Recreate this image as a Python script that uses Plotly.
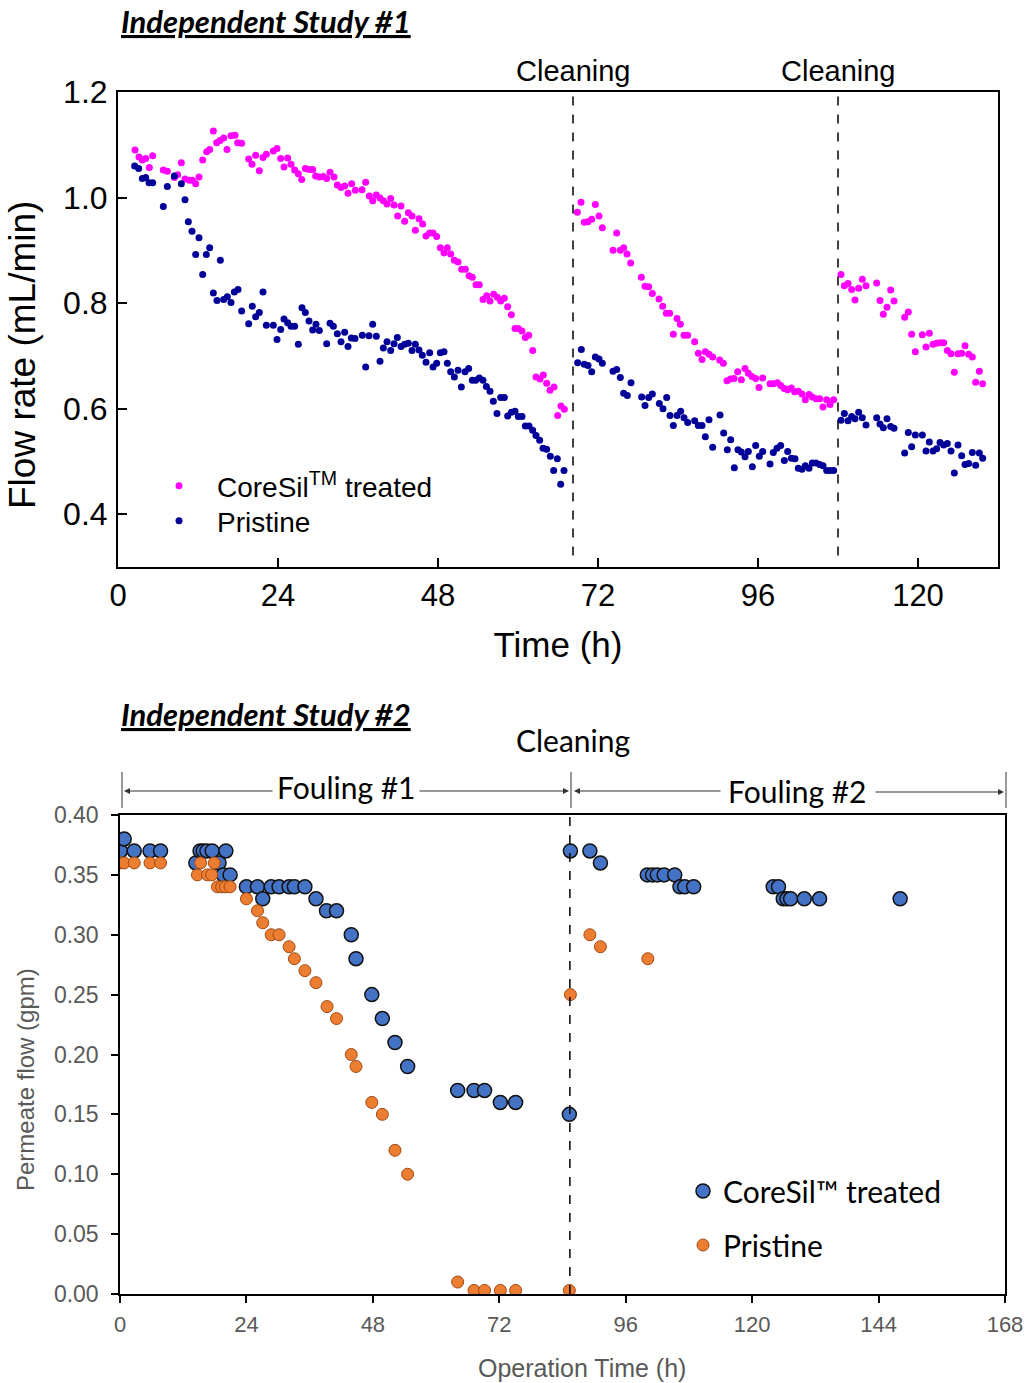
import plotly.graph_objects as go

W, H = 1030, 1383

# ---------------- Study 1 data ----------------
t1_coresil = [2.55, 3.15, 3.65, 4.15, 4.7, 5.2, 6.8, 7.4, 8.45, 8.95, 9.5, 10.05, 10.7, 11.15, 11.65, 12.15,
              12.7, 13.3, 13.75, 14.3, 14.8, 15.3, 15.85, 16.35, 16.95, 17.55, 17.95, 18.55, 19.6, 20.1, 20.65,
              21.2, 21.75, 22.25, 23.3, 23.85, 24.4, 24.9, 25.45, 25.95, 26.5, 27.05, 27.55, 28.1, 28.65, 29.2,
              29.65, 30.2, 30.8, 31.3, 31.8, 32.4, 32.9, 33.45, 34.0, 34.5, 35.05, 35.6, 36.6, 37.15, 37.7, 38.2,
              38.75, 39.3, 39.8, 40.35, 40.9, 41.4, 41.95, 42.45, 43.0, 43.55, 44.1, 44.6, 45.15, 45.7, 46.2,
              46.75, 47.25, 47.8, 48.35, 48.9, 49.4, 49.9, 50.45, 51.0, 51.55, 52.1, 52.65, 53.15, 53.7, 54.2,
              54.75, 55.3, 55.8, 56.35, 56.9, 57.4, 57.95, 58.45, 59.0, 59.55, 60.05, 60.6, 61.1, 61.6, 62.2,
              62.7, 63.3, 63.8, 64.3, 64.8, 65.4, 65.95, 66.45, 66.95,
              68.9, 69.45, 69.95, 70.5, 71.05, 71.6, 72.15, 72.65, 74.25, 74.8, 75.35, 75.85, 76.35, 76.9, 78.5,
              79.05, 79.6, 80.15, 81.15, 81.7, 82.25, 82.75, 83.3, 83.85, 84.35, 84.9, 85.45, 86.5, 87.05, 87.6,
              88.1, 88.65, 89.2, 90.25, 90.8, 91.35, 91.9, 92.4, 92.95, 93.5, 94.05, 94.55, 95.1, 95.65, 96.15,
              96.7, 97.8, 98.3, 98.9, 99.4, 99.95, 100.45, 101.0, 101.5, 102.05, 102.6, 103.1, 103.65, 104.15,
              104.7, 105.25, 105.75, 106.3, 106.8, 107.35,
              108.45, 108.95, 109.5, 110.05, 110.55, 111.1, 111.65, 112.2, 113.8, 114.3, 114.8, 115.35, 115.9,
              116.4, 118.0, 118.55, 119.05, 119.6, 120.65, 121.2, 121.7, 122.25, 122.8, 123.3, 123.85, 124.4,
              124.95, 125.45, 126.0, 126.55, 127.05, 127.6, 128.15, 128.65, 129.2, 129.7]
f1_coresil = [1.090, 1.077, 1.071, 1.074, 1.057, 1.079, 1.052, 1.050, 1.038, 1.043, 1.066, 1.035, 1.033, 1.033,
              1.026, 1.039, 1.071, 1.087, 1.091, 1.126, 1.104, 1.108, 1.113, 1.091, 1.117, 1.118, 1.104, 1.103,
              1.073, 1.063, 1.080, 1.051, 1.076, 1.082, 1.088, 1.093, 1.074, 1.058, 1.075, 1.063, 1.052, 1.045,
              1.034, 1.055, 1.053, 1.053, 1.041, 1.039, 1.040, 1.036, 1.048, 1.039, 1.024, 1.019, 1.022, 1.008,
              1.026, 1.014, 1.015, 1.029, 1.003, 0.994, 1.005, 0.999, 0.994, 0.988, 0.998, 0.986, 0.965, 0.984,
              0.955, 0.971, 0.965, 0.938, 0.960, 0.950, 0.927, 0.933, 0.933, 0.926, 0.905, 0.895, 0.905, 0.893,
              0.881, 0.878, 0.864, 0.864, 0.852, 0.849, 0.835, 0.835, 0.807, 0.814, 0.804, 0.817, 0.811, 0.804,
              0.809, 0.793, 0.778, 0.752, 0.752, 0.747, 0.735, 0.739, 0.710, 0.660, 0.656, 0.664, 0.648, 0.635,
              0.641, 0.587, 0.605, 0.599,
              0.972, 0.991, 0.953, 0.954, 0.959, 0.987, 0.965, 0.943, 0.900, 0.933, 0.900, 0.905, 0.893, 0.876,
              0.849, 0.832, 0.831, 0.818, 0.808, 0.794, 0.781, 0.781, 0.741, 0.771, 0.760, 0.739, 0.739, 0.727,
              0.705, 0.693, 0.708, 0.703, 0.698, 0.692, 0.686, 0.653, 0.656, 0.657, 0.670, 0.655, 0.676, 0.667,
              0.661, 0.657, 0.640, 0.658, 0.647, 0.647, 0.649, 0.644, 0.638, 0.636, 0.639, 0.632, 0.633, 0.628,
              0.617, 0.627, 0.622, 0.619, 0.619, 0.603, 0.617, 0.608, 0.617,
              0.854, 0.833, 0.837, 0.826, 0.806, 0.828, 0.845, 0.833, 0.838, 0.805, 0.779, 0.792, 0.825, 0.804,
              0.773, 0.783, 0.741, 0.708, 0.740, 0.717, 0.743, 0.722, 0.724, 0.725, 0.725, 0.710, 0.704, 0.669,
              0.704, 0.705, 0.719, 0.703, 0.698, 0.650, 0.671, 0.647]

t1_pristine = [2.5, 3.1, 3.65, 4.15, 4.65, 5.2, 6.8, 7.4, 8.45, 9.5, 10.05, 10.55, 11.1, 11.65, 12.15, 12.7,
               13.25, 13.75, 14.3, 14.85, 15.35, 15.85, 16.4, 16.95, 17.45, 18.0, 18.55, 19.6, 20.15, 20.65, 21.2,
               21.75, 22.25, 23.3, 23.85, 24.4, 24.9, 25.45, 25.95, 26.5, 27.05, 27.6, 28.1, 28.65, 29.2, 29.7,
               30.2, 31.3, 31.8, 32.3, 32.9, 33.45, 34.0, 34.5, 35.0, 35.55, 36.65, 37.15, 37.65, 38.2, 38.75,
               39.3, 39.8, 40.35, 40.9, 41.4, 41.9, 42.45, 43.0, 43.55, 44.1, 44.6, 45.15, 45.65, 46.2, 46.75,
               47.25, 47.8, 48.35, 48.9, 49.4, 49.9, 50.45, 51.0, 51.5, 52.05, 52.6, 53.15, 53.65, 54.2, 54.75,
               55.25, 55.8, 56.3, 56.85, 57.4, 57.95, 58.45, 59.0, 59.55, 60.05, 60.6, 61.1, 61.65, 62.2, 62.7,
               63.25, 63.75, 64.3, 64.85, 65.35, 65.9, 66.4, 66.9,
               68.95, 69.5, 69.95, 70.5, 71.05, 71.6, 72.15, 72.65, 74.25, 74.8, 75.35, 75.85, 76.4, 76.95,
               78.55, 79.05, 79.6, 80.15, 81.2, 81.75, 82.3, 82.8, 83.3, 83.85, 84.4, 84.9, 85.45, 86.5, 87.05,
               87.6, 88.1, 88.65, 89.2, 90.3, 90.85, 91.4, 91.9, 92.45, 93.0, 93.5, 94.05, 94.55, 95.15, 95.65,
               96.2, 96.7, 97.8, 98.3, 98.85, 99.4, 99.95, 100.45, 101.0, 101.55, 102.05, 102.6, 103.1, 103.65,
               104.15, 104.7, 105.25, 105.75, 106.3, 106.8, 107.35,
               108.45, 108.95, 109.5, 110.05, 110.55, 111.1, 111.65, 112.2, 113.8, 114.3, 114.8, 115.35, 115.9,
               116.4, 118.0, 118.55, 119.05, 119.6, 120.65, 121.2, 121.7, 122.25, 122.8, 123.3, 123.85, 124.4,
               124.95, 125.45, 126.0, 126.55, 127.05, 127.6, 128.15, 128.65, 129.2, 129.7]
f1_pristine = [1.060, 1.055, 1.036, 1.038, 1.028, 1.028, 0.983, 1.021, 1.041, 1.026, 0.996, 0.954, 0.936, 0.892,
               0.924, 0.854, 0.892, 0.905, 0.819, 0.805, 0.881, 0.807, 0.812, 0.801, 0.821, 0.826, 0.785, 0.761,
               0.794, 0.774, 0.782, 0.821, 0.758, 0.758, 0.731, 0.750, 0.770, 0.763, 0.756, 0.756, 0.722, 0.791,
               0.782, 0.766, 0.749, 0.760, 0.748, 0.723, 0.762, 0.756, 0.742, 0.727, 0.745, 0.718, 0.734, 0.733,
               0.739, 0.679, 0.738, 0.760, 0.737, 0.690, 0.715, 0.727, 0.710, 0.723, 0.735, 0.718, 0.722, 0.724,
               0.710, 0.722, 0.711, 0.701, 0.688, 0.706, 0.679, 0.686, 0.706, 0.708, 0.686, 0.670, 0.660, 0.673,
               0.641, 0.670, 0.676, 0.654, 0.654, 0.658, 0.654, 0.642, 0.633, 0.614, 0.591, 0.621, 0.621, 0.586,
               0.593, 0.595, 0.585, 0.585, 0.567, 0.567, 0.559, 0.549, 0.540, 0.525, 0.523, 0.510, 0.483, 0.505,
               0.457, 0.483,
               0.687, 0.712, 0.684, 0.682, 0.670, 0.698, 0.694, 0.686, 0.671, 0.674, 0.659, 0.629, 0.625, 0.649,
               0.622, 0.606, 0.621, 0.628, 0.610, 0.600, 0.621, 0.587, 0.568, 0.587, 0.595, 0.583, 0.574, 0.577,
               0.568, 0.568, 0.547, 0.579, 0.527, 0.588, 0.554, 0.522, 0.541, 0.488, 0.522, 0.518, 0.509, 0.519,
               0.490, 0.530, 0.510, 0.519, 0.495, 0.517, 0.525, 0.530, 0.502, 0.519, 0.506, 0.505, 0.487, 0.485,
               0.492, 0.487, 0.497, 0.497, 0.494, 0.492, 0.483, 0.483, 0.483,
               0.578, 0.591, 0.577, 0.585, 0.581, 0.593, 0.583, 0.569, 0.583, 0.571, 0.564, 0.581, 0.566, 0.563,
               0.516, 0.555, 0.528, 0.550, 0.550, 0.520, 0.537, 0.520, 0.524, 0.536, 0.531, 0.534, 0.520, 0.478,
               0.531, 0.511, 0.494, 0.496, 0.517, 0.493, 0.516, 0.506]

cleaning1_times = [68.25, 108.0]
x1_ticks = [0, 24, 48, 72, 96, 120]
y1_ticks = [0.4, 0.6, 0.8, 1.0, 1.2]

# ---------------- Study 2 data ----------------
t2_coresil = [0.1, 0.8, 2.7, 5.7, 7.7, 14.4, 15.2, 15.8, 16.5, 17.5, 18.8, 19.6, 20.1, 20.9, 24.0, 26.1, 27.1,
              28.7, 30.2, 32.1, 33.1, 35.1, 37.2, 39.2, 41.1, 43.9, 44.8, 47.8, 49.8, 52.2, 54.6, 64.1, 67.2,
              69.2, 72.2, 75.1, 85.3, 85.5, 89.2, 91.2, 100.1, 101.1, 102.0, 103.3, 105.3, 106.3, 107.2, 108.9,
              124.0, 125.0, 125.9, 126.6, 127.3, 129.9, 132.8, 148.1]
f2_coresil = [0.37, 0.38, 0.37, 0.37, 0.37, 0.36, 0.37, 0.37, 0.37, 0.37, 0.36, 0.35, 0.37, 0.35, 0.34, 0.34, 0.33,
              0.34, 0.34, 0.34, 0.34, 0.34, 0.33, 0.32, 0.32, 0.30, 0.28, 0.25, 0.23, 0.21, 0.19, 0.17, 0.17,
              0.17, 0.16, 0.16, 0.15, 0.37, 0.37, 0.36, 0.35, 0.35, 0.35, 0.35, 0.35, 0.34, 0.34, 0.34,
              0.34, 0.34, 0.33, 0.33, 0.33, 0.33, 0.33, 0.33]

t2_pristine = [0.1, 0.8, 2.7, 5.7, 7.7, 14.7, 15.3, 16.6, 17.4, 17.9, 18.5, 19.3, 20.0, 20.9, 24.0, 26.1, 27.1,
               28.7, 30.2, 32.1, 33.1, 35.1, 37.2, 39.3, 41.1, 43.9, 44.8, 47.8, 49.8, 52.2, 54.6, 64.1, 67.2,
               69.2, 72.2, 75.1, 85.3, 85.5, 89.2, 91.2, 100.2]
f2_pristine = [0.36, 0.36, 0.36, 0.36, 0.36, 0.35, 0.36, 0.35, 0.35, 0.36, 0.34, 0.34, 0.34, 0.34, 0.33, 0.32, 0.31,
               0.30, 0.30, 0.29, 0.28, 0.27, 0.26, 0.24, 0.23, 0.20, 0.19, 0.16, 0.15, 0.12, 0.10, 0.01, 0.003,
               0.003, 0.003, 0.003, 0.003, 0.25, 0.30, 0.29, 0.28]

cleaning2_time = 85.4
x2_ticks = [0, 24, 48, 72, 96, 120, 144, 168]


def px(x):
    return x / W


def py(y):
    return 1 - y / H


ARIAL = "Liberation Sans, Arial, sans-serif"
CALIBRI = "Lato, Carlito, Calibri, sans-serif"
GRAY = "#595959"

fig = go.Figure()

# Study 1 traces
fig.add_trace(go.Scatter(x=t1_coresil, y=f1_coresil, mode="markers", name="CoreSil<sup>TM</sup> treated",
                         marker=dict(color="#ff00ff", size=7), xaxis="x", yaxis="y", legend="legend"))
fig.add_trace(go.Scatter(x=t1_pristine, y=f1_pristine, mode="markers", name="Pristine",
                         marker=dict(color="#000099", size=7), xaxis="x", yaxis="y", legend="legend3"))

# Study 2 traces
fig.add_trace(go.Scatter(x=t2_coresil, y=f2_coresil, mode="markers", name="CoreSil™ treated",
                         marker=dict(color="#4472c4", size=14, line=dict(color="#111111", width=1.5)),
                         xaxis="x2", yaxis="y2", legend="legend2"))
fig.add_trace(go.Scatter(x=t2_pristine, y=f2_pristine, mode="markers", name="Pristine",
                         marker=dict(color="#ed7d31", size=12, line=dict(color="#a04a14", width=1)),
                         xaxis="x2", yaxis="y2", legend="legend4"))

shapes = []
for tc in cleaning1_times:
    shapes.append(dict(type="line", xref="x", yref="y", x0=tc, x1=tc, y0=0.322, y1=1.195,
                       line=dict(color="black", width=1.5, dash="dash")))
shapes.append(dict(type="line", xref="x2", yref="y2", x0=cleaning2_time, x1=cleaning2_time, y0=0, y1=0.40,
                   line=dict(color="black", width=1.5, dash="dash")))
# Fouling bracket bars
for xb in [122, 571, 1006]:
    shapes.append(dict(type="line", xref="paper", yref="paper", x0=px(xb), x1=px(xb), y0=py(772), y1=py(808),
                       line=dict(color="#333333", width=1)))

annotations = []
annotations.append(dict(text="<b><i><u>Independent Study #1</u></i></b>", x=px(119), y=py(21), xref="paper",
                        yref="paper", xanchor="left", yanchor="middle", showarrow=False,
                        font=dict(family=CALIBRI, size=31, color="black")))
annotations.append(dict(text="<b><i><u>Independent Study #2</u></i></b>", x=px(119), y=py(714), xref="paper",
                        yref="paper", xanchor="left", yanchor="middle", showarrow=False,
                        font=dict(family=CALIBRI, size=31, color="black")))
for tc in cleaning1_times:
    annotations.append(dict(text="Cleaning", x=tc, xref="x", y=py(71), yref="paper", xanchor="center",
                            yanchor="middle", showarrow=False, font=dict(family=ARIAL, size=29, color="black")))
annotations.append(dict(text="Cleaning", x=px(573), y=py(740), xref="paper", yref="paper", xanchor="center",
                        yanchor="middle", showarrow=False, font=dict(family=CALIBRI, size=30, color="black")))
annotations.append(dict(text="Fouling #1", x=px(346), y=py(787), xref="paper", yref="paper", xanchor="center",
                        yanchor="middle", showarrow=False, font=dict(family=CALIBRI, size=30, color="black")))
annotations.append(dict(text="Fouling #2", x=px(797), y=py(791), xref="paper", yref="paper", xanchor="center",
                        yanchor="middle", showarrow=False, font=dict(family=CALIBRI, size=30, color="black")))
# axis titles placed like the reference
annotations.append(dict(text="Flow rate (mL/min)", x=px(22), y=py(355), xref="paper", yref="paper",
                        xanchor="center", yanchor="middle", textangle=-90, showarrow=False,
                        font=dict(family=ARIAL, size=37, color="black")))
annotations.append(dict(text="Permeate flow (gpm)", x=px(25), y=py(1080), xref="paper", yref="paper",
                        xanchor="center", yanchor="middle", textangle=-90, showarrow=False,
                        font=dict(family=ARIAL, size=24, color=GRAY)))
annotations.append(dict(text="Operation Time (h)", x=px(582), y=py(1368), xref="paper", yref="paper",
                        xanchor="center", yanchor="middle", showarrow=False,
                        font=dict(family=ARIAL, size=25, color=GRAY)))
# arrows (head x, tail x, y)
for hx, tx, yy in [(124, 274, 791), (569, 418, 791), (574, 722, 791), (1004, 874, 792)]:
    annotations.append(dict(text="", x=px(hx), y=py(yy), xref="paper", yref="paper", ax=tx - hx, ay=0,
                            showarrow=True, arrowhead=2, arrowsize=1.2, arrowwidth=1, arrowcolor="#333333"))

leg_common = dict(xanchor="left", yanchor="middle", bgcolor="rgba(0,0,0,0)", traceorder="normal")

fig.update_layout(
    width=W, height=H,
    margin=dict(l=0, r=0, t=0, b=0, autoexpand=False),
    paper_bgcolor="white", plot_bgcolor="white",
    showlegend=True,
    shapes=shapes,
    annotations=annotations,
    xaxis=dict(domain=[px(118), px(998)], anchor="y", range=[0, 132], tickvals=x1_ticks, automargin=False,
               ticks="inside", ticklen=9, tickwidth=1.5, tickcolor="black",
               showline=True, linecolor="black", linewidth=2, mirror=True, showgrid=False, zeroline=False,
               tickfont=dict(family=ARIAL, size=31, color="black"),
               title=dict(text="Time (h)", font=dict(family=ARIAL, size=35, color="black"), standoff=20)),
    yaxis=dict(domain=[py(567), py(92)], anchor="x", range=[0.3, 1.2], tickvals=y1_ticks, tickformat=".1f",
               automargin=False, ticklabelstandoff=2,
               ticks="inside", ticklen=9, tickwidth=1.5, tickcolor="black",
               showline=True, linecolor="black", linewidth=2, mirror=True, showgrid=False, zeroline=False,
               tickfont=dict(family=ARIAL, size=32, color="black")),
    yaxis3=dict(overlaying="y", side="right", anchor="x", range=[0.3, 1.2], dtick=0.1, tick0=0.3,
                automargin=False,
                ticks="inside", ticklen=9, tickwidth=1.5, tickcolor="black", showticklabels=False,
                showgrid=False, zeroline=False, showline=False),
    xaxis2=dict(domain=[px(120), px(1005)], anchor="y2", range=[0, 168], tickvals=x2_ticks, automargin=False,
                ticks="outside", ticklen=7, tickwidth=1.5, tickcolor="black", ticklabelstandoff=3,
                showline=True, linecolor="black", linewidth=1.5, mirror=True, showgrid=False, zeroline=False,
                tickfont=dict(family=ARIAL, size=22, color=GRAY)),
    yaxis2=dict(domain=[py(1294), py(815)], anchor="x2", range=[0, 0.40], dtick=0.05, tickformat=".2f",
                automargin=False, ticklabelstandoff=8,
                ticks="outside", ticklen=7, tickwidth=1.5, tickcolor="black",
                showline=True, linecolor="black", linewidth=1.5, mirror=True, showgrid=False, zeroline=False,
                tickfont=dict(family=ARIAL, size=23, color=GRAY)),
    legend=dict(x=px(141), y=py(486), itemwidth=66,
                font=dict(family=ARIAL, size=28, color="black"), **leg_common),
    legend3=dict(x=px(141), y=py(521), itemwidth=66,
                 font=dict(family=ARIAL, size=28, color="black"), **leg_common),
    legend2=dict(x=px(683), y=py(1191), itemwidth=30,
                 font=dict(family=CALIBRI, size=30, color="black"), **leg_common),
    legend4=dict(x=px(683), y=py(1245), itemwidth=30,
                 font=dict(family=CALIBRI, size=30, color="black"), **leg_common),
)

fig.write_html("out.html", config={"displayModeBar": False},
               post_script="document.body.style.margin='0px';")
